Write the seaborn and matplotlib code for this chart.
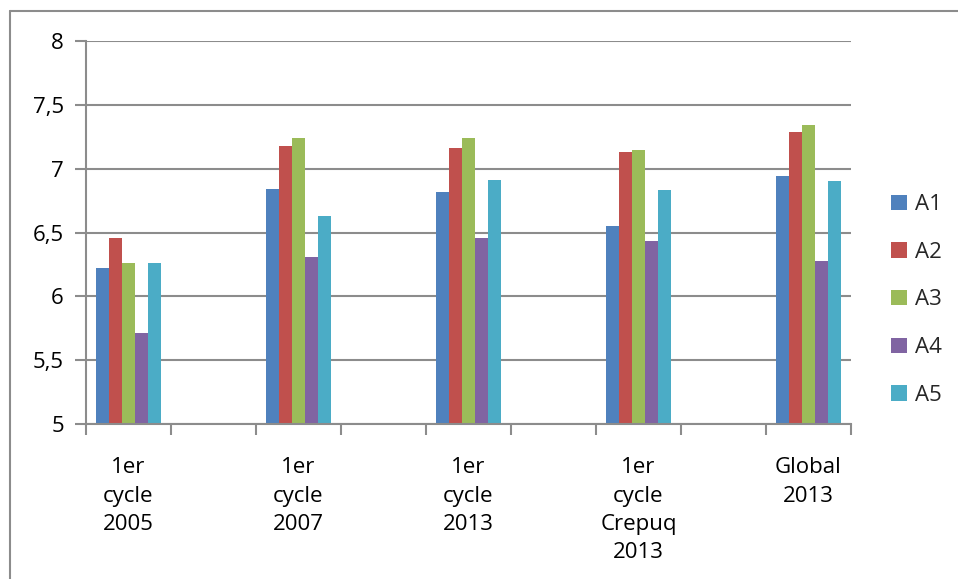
import numpy as np
import pandas as pd
import seaborn as sns
import matplotlib.pyplot as plt
from matplotlib.lines import Line2D

# Chart data
categories = ["1er\ncycle\n2005", "1er\ncycle\n2007", "1er\ncycle\n2013",
              "1er\ncycle\nCrepuq\n2013", "Global\n2013"]
series = ["A1", "A2", "A3", "A4", "A5"]
a1 = [6.22, 6.84, 6.82, 6.55, 6.94]
a2 = [6.46, 7.18, 7.16, 7.13, 7.29]
a3 = [6.26, 7.24, 7.24, 7.15, 7.34]
a4 = [5.71, 6.31, 6.46, 6.43, 6.28]
a5 = [6.26, 6.63, 6.91, 6.83, 6.90]
y_ticks = [5, 5.5, 6, 6.5, 7, 7.5, 8]
y_tick_labels = ["5", "5,5", "6", "6,5", "7", "7,5", "8"]

colors = ["#4F81BD", "#C0504D", "#9BBB59", "#8064A2", "#4BACC6"]

df = pd.DataFrame({"categorie": categories, "A1": a1, "A2": a2, "A3": a3,
                   "A4": a4, "A5": a5})
long = df.melt(id_vars="categorie", var_name="serie", value_name="valeur")

# empty slots between the groups
order = []
for i, c in enumerate(categories):
    order.append(c)
    if i < len(categories) - 1:
        order.append(" " * (i + 1))

sns.set_theme(style="white")
plt.rcParams["font.family"] = ["Open Sans", "DejaVu Sans"]

fig = plt.figure(figsize=(9.58, 5.79), dpi=100)
ax = fig.add_axes([86 / 958, 1 - 424 / 579, (851 - 86) / 958, (424 - 41) / 579])

sns.barplot(data=long, x="categorie", y="valeur", hue="serie", order=order,
            hue_order=series, palette=colors, width=0.77, saturation=1,
            linewidth=0, ax=ax, legend=True)

ax.set_ylim(5, 8)
ax.set_xlim(-0.5, len(order) - 0.5)
ax.set_yticks(y_ticks)
ax.set_yticklabels(y_tick_labels, fontsize=16, color="black")
ax.set_axisbelow(True)
ax.yaxis.grid(True, color="#8C8C8C", linewidth=1.5)
ax.xaxis.grid(False)

ax.set_xticks(range(len(order)))
ax.set_xticklabels(order, fontsize=16, color="black", linespacing=1.45)
ax.set_xticks(np.arange(-0.5, len(order), 1), minor=True)
ax.tick_params(axis="x", which="major", length=0, pad=24)
ax.tick_params(axis="x", which="minor", length=8, width=1.5, color="#8C8C8C",
               direction="out", bottom=True)
ax.tick_params(axis="y", which="major", length=8, width=1.5, color="#8C8C8C",
               direction="out", left=True, pad=8)
ax.set_xlabel("")
ax.set_ylabel("")

for side in ["top", "right"]:
    ax.spines[side].set_visible(False)
for side in ["left", "bottom"]:
    ax.spines[side].set_color("#8C8C8C")
    ax.spines[side].set_linewidth(1.5)

handles, labels = ax.get_legend_handles_labels()
ax.legend(handles, labels, loc="center left", bbox_to_anchor=(891 / 958, 1 - 300 / 579),
          bbox_transform=fig.transFigure, frameon=False, fontsize=16,
          handlelength=0.7, handleheight=0.7, handletextpad=0.4,
          labelspacing=1.2, borderaxespad=0, borderpad=0)

# outer frame of the chart area
fig.add_artist(Line2D([10 / 958, 10 / 958], [0, 1 - 11 / 579], transform=fig.transFigure,
                      color="#8C8C8C", linewidth=1.5))
fig.add_artist(Line2D([10 / 958, 1], [1 - 11 / 579, 1 - 11 / 579], transform=fig.transFigure,
                      color="#8C8C8C", linewidth=1.5))

fig.savefig("out.png", dpi=100)
